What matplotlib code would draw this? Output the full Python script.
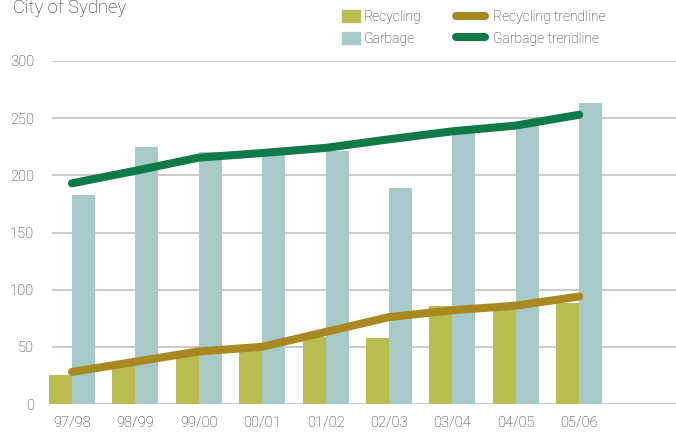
import matplotlib
matplotlib.use("Agg")
import matplotlib.pyplot as plt
import numpy as np
from matplotlib.patches import Patch
from matplotlib.lines import Line2D

categories = ["97/98", "98/99", "99/00", "00/01", "01/02", "02/03", "03/04", "04/05", "05/06"]
recycling = [25, 33, 43, 47, 59, 58, 86, 83, 88]
garbage = [183, 225, 220, 218, 221, 189, 238, 245, 263]
recycling_trend = [28, 37, 46, 50, 63, 76, 82, 86, 94]
garbage_trend = [193, 204, 215.5, 219.5, 224, 231.5, 238.5, 243.5, 253]
yticks = [0, 50, 100, 150, 200, 250, 300]

c_rec = "#b9bd4f"
c_gar = "#a6cac8"
c_rec_t = "#a88821"
c_gar_t = "#0f7a48"
c_grid = "#c6c6c6"
c_text = "#262626"

plt.rcParams['font.family'] = ['Roboto', 'DejaVu Sans']
plt.rcParams['font.weight'] = 'light'

fig = plt.figure(figsize=(6.76, 4.34), dpi=100)
ax = fig.add_axes([52/676, 30/434, 1 - 52/676, (404-61)/434])

x = np.arange(len(categories))
w = 0.363
b1 = ax.bar(x - w/2, recycling, width=w, color=c_rec, zorder=2)
b2 = ax.bar(x + w/2, garbage, width=w, color=c_gar, zorder=2)
for p in list(b1) + list(b2):
    p.set_clip_on(False)
lw = 5.8
ax.plot(x, recycling_trend, color=c_rec_t, lw=lw, solid_capstyle='round', solid_joinstyle='round', zorder=3)
ax.plot(x, garbage_trend, color=c_gar_t, lw=lw, solid_capstyle='round', solid_joinstyle='round', zorder=3)

ax.set_ylim(0, 300)
ax.set_xlim(-0.315, 9.527)
ax.set_yticks(yticks)
ax.set_xticks(x)
ax.set_xticklabels(categories)
ax.grid(axis='y', color=c_grid, lw=1.3, zorder=1)
ax.set_axisbelow(True)
for s in ax.spines.values():
    s.set_visible(False)
ax.tick_params(length=0, colors=c_text, labelsize=10.5)
ax.tick_params(axis='y', pad=13)
ax.tick_params(axis='x', pad=8)

fig.text(13/676, 1 - 13/434, "City of Sydney", fontsize=13.3, color=c_text, va='baseline', ha='left')

h1 = [Patch(color=c_rec), Patch(color=c_gar)]
leg1 = fig.legend(h1, ["Recycling", "Garbage"], loc='upper left', bbox_to_anchor=(338/676, 1 - 6/434),
                  frameon=False, fontsize=10, handlelength=1.25, handleheight=0.95,
                  handletextpad=0.3, labelspacing=0.55, borderaxespad=0, borderpad=0.3,
                  labelcolor=c_text)
h2 = [Line2D([0], [0], color=c_rec_t, lw=lw, solid_capstyle='round'),
      Line2D([0], [0], color=c_gar_t, lw=lw, solid_capstyle='round')]
leg2 = fig.legend(h2, ["Recycling trendline", "Garbage trendline"], loc='upper left',
                  bbox_to_anchor=(452/676, 1 - 6/434),
                  frameon=False, fontsize=10, handlelength=2.1, handleheight=0.95,
                  handletextpad=0.55, labelspacing=0.55, borderaxespad=0, borderpad=0.3,
                  labelcolor=c_text)

fig.savefig("out.png", dpi=100)
